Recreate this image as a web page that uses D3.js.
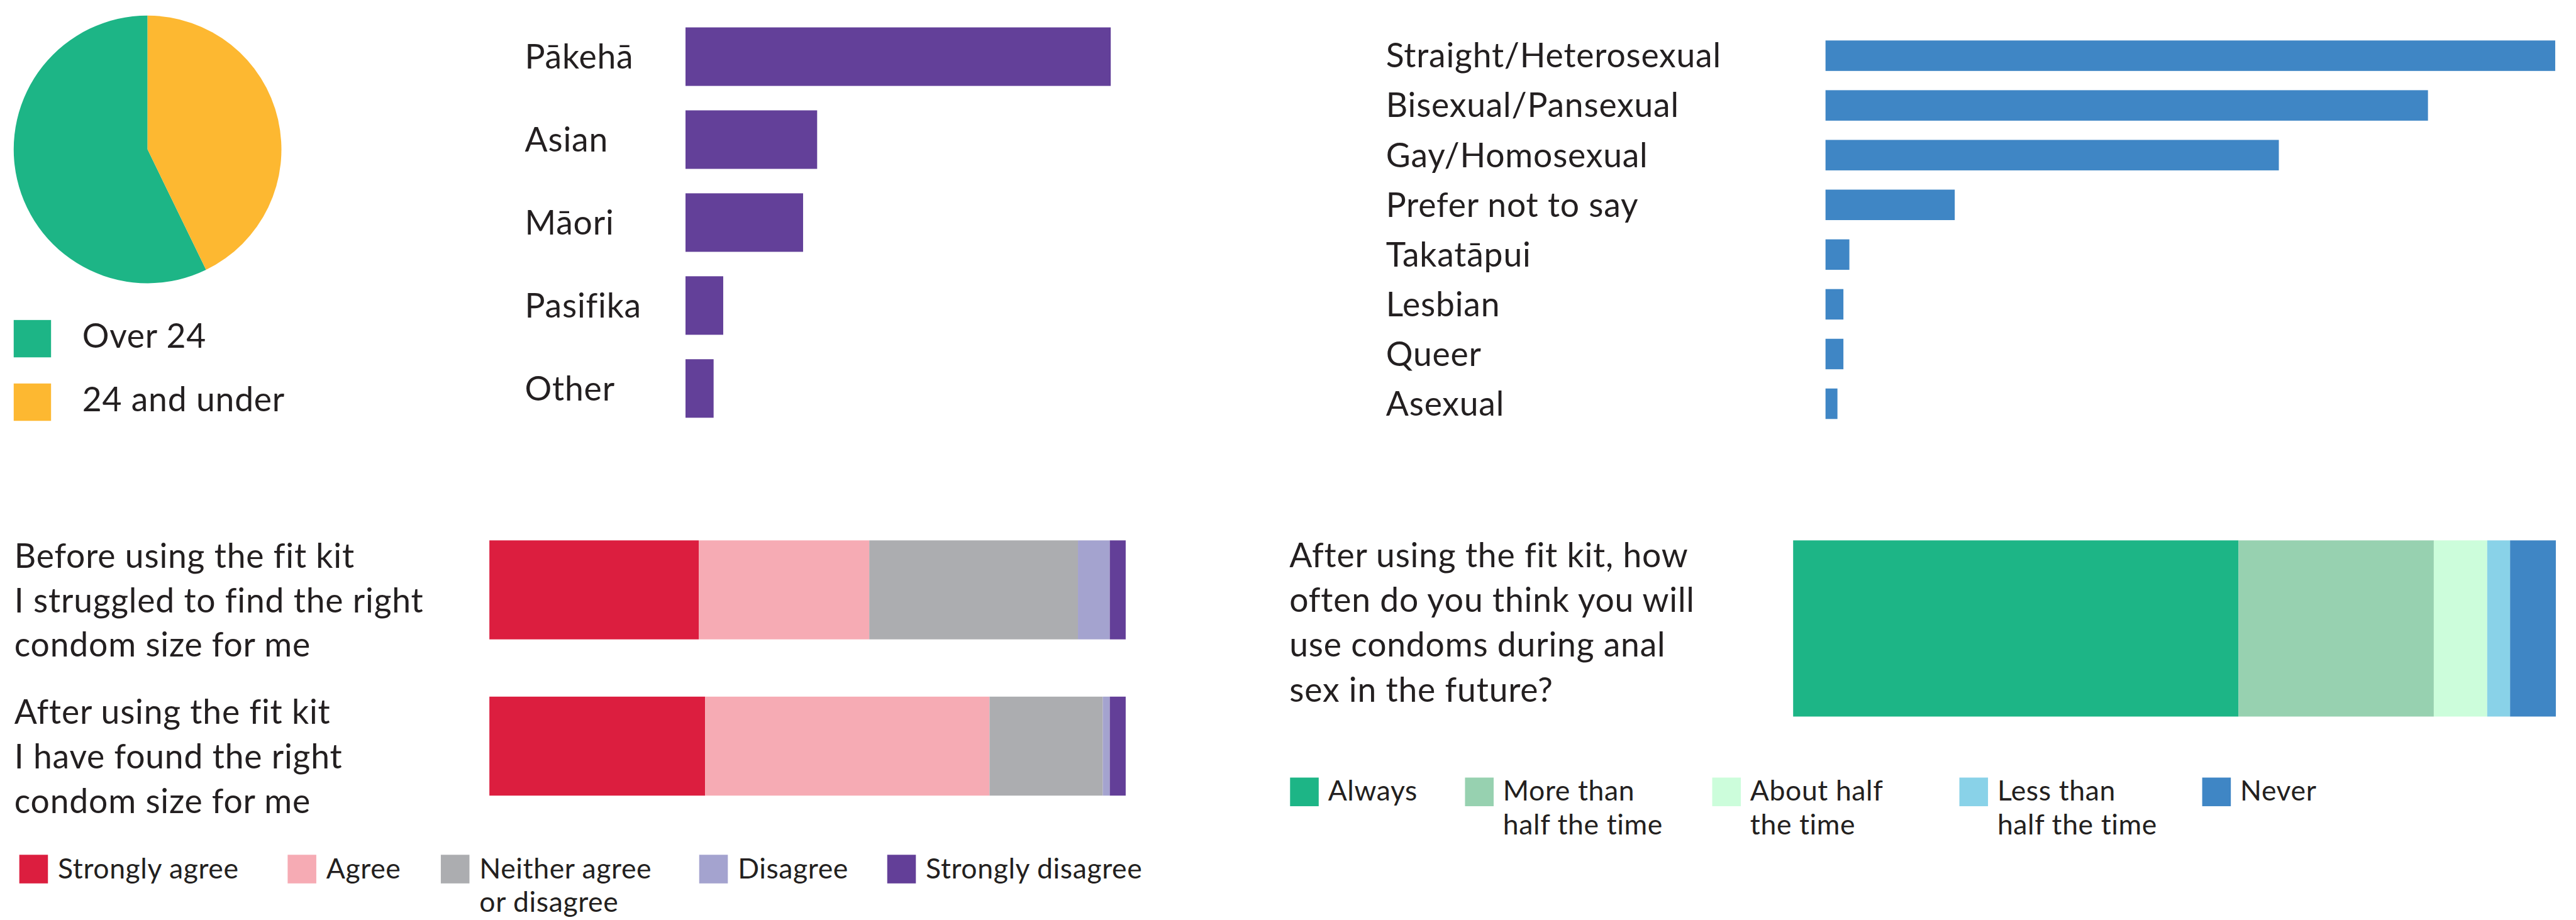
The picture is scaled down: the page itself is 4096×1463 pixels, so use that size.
<!DOCTYPE html>
<html>
<head>
<meta charset="utf-8">
<script src="https://cdn.jsdelivr.net/npm/d3@7"></script>
<style>
  body { margin: 0; background: #ffffff; }
  svg text { font-family: Lato, "Open Sans", sans-serif; fill: #231f20; }
</style>
</head>
<body>
<svg id="chart" width="4096" height="1463"></svg>
<script>
// ---------------- DATA ----------------
const ageGroups = ["Over 24", "24 and under"];
const ageValues = [57.2, 42.8];

const ethnicities = ["Pākehā", "Asian", "Māori", "Pasifika", "Other"];
const ethnicityValues = [57.5, 17.8, 15.9, 5.1, 3.8];

const orientations = ["Straight/Heterosexual", "Bisexual/Pansexual", "Gay/Homosexual",
  "Prefer not to say", "Takatāpui", "Lesbian", "Queer", "Asexual"];
const orientationValues = [36.7, 30.3, 22.8, 6.5, 1.2, 0.9, 0.9, 0.6];

const agreementLevels = ["Strongly agree", "Agree", "Neither agree\nor disagree", "Disagree", "Strongly disagree"];
const statements = [
  "Before using the fit kit\nI struggled to find the right\ncondom size for me",
  "After using the fit kit\nI have found the right\ncondom size for me"
];
const beforeValues = [32.9, 26.8, 32.8, 5.0, 2.5];
const afterValues = [33.9, 44.7, 17.8, 1.1, 2.5];

const frequencyLevels = ["Always", "More than\nhalf the time", "About half\nthe time", "Less than\nhalf the time", "Never"];
const futureUseQuestion = "After using the fit kit, how\noften do you think you will\nuse condoms during anal\nsex in the future?";
const futureUseValues = [58.4, 25.6, 7.0, 3.0, 6.0];

// ---------------- STYLE / LAYOUT ----------------
const ageColors = ["#1db586", "#fdb831"];
const ethnicityColor = "#634099";
const orientationColor = "#3f86c5";
const agreementColors = ["#dc1e3f", "#f6abb4", "#acadb0", "#a4a3cf", "#633f98"];
const frequencyColors = ["#1db586", "#97d1b0", "#ccfddb", "#89d2e8", "#3f86c5"];
const agreementLegendX = [31, 462, 708, 1123, 1425];
const frequencyLegendX = [2072, 2353, 2750, 3147, 3537];
const mainFont = 54, mainSpacing = 0.8;
const legendFont = 45, legendSpacing = 0.6;

const svg = d3.select("#chart");
const root = svg.append("g").attr("transform", "scale(0.99)");

// ---------------- PIE ----------------
(function () {
  const total = d3.sum(ageValues);
  const start = 2 * Math.PI * ageValues[1] / total;
  const pie = d3.pie().sort(null).startAngle(start).endAngle(start + 2 * Math.PI);
  const arc = d3.arc().innerRadius(0).outerRadius(215);
  const g = root.append("g").attr("transform", "translate(237,240)");
  g.selectAll("path").data(pie(ageValues)).join("path")
    .attr("d", arc).attr("fill", (d, i) => ageColors[i]);

  const leg = root.append("g");
  const ly = d3.scalePoint().domain(ageGroups).range([514, 616]);
  leg.selectAll("rect").data(ageGroups).join("rect")
    .attr("x", 22).attr("y", d => ly(d)).attr("width", 60).attr("height", 60)
    .attr("fill", (d, i) => ageColors[i]);
  leg.selectAll("text").data(ageGroups).join("text")
    .attr("x", 132).attr("y", d => ly(d) + 45)
    .attr("font-size", mainFont).attr("letter-spacing", mainSpacing).text(d => d);
})();

// ---------------- HORIZONTAL BARS ----------------
function hbars(cats, vals, color, x0, x1, y0, y1, pad, labelX) {
  const x = d3.scaleLinear().domain([0, d3.max(vals)]).range([x0, x1]);
  const y = d3.scaleBand().domain(cats).range([y0, y1]).paddingInner(pad).paddingOuter(0);
  const g = root.append("g");
  g.selectAll("rect").data(cats).join("rect")
    .attr("x", x(0)).attr("y", d => y(d))
    .attr("width", (d, i) => x(vals[i]) - x(0)).attr("height", y.bandwidth())
    .attr("fill", color);
  g.selectAll("text").data(cats).join("text")
    .attr("x", labelX).attr("y", d => y(d) + y.bandwidth() / 2 + 19)
    .attr("font-size", mainFont).attr("letter-spacing", mainSpacing).text(d => d);
}
hbars(ethnicities, ethnicityValues, ethnicityColor, 1101, 1784, 44, 671, 0.2946, 843);
hbars(orientations, orientationValues, orientationColor, 2932, 4104, 65, 673, 0.387, 2226);

// ---------------- STACKED BARS ----------------
function stackSegments(vals) {
  const cum = d3.cumsum(vals);
  return vals.map((v, i) => ({ i, x0: cum[i] - v, x1: cum[i] }));
}
function multiline(sel, str, x, y, lh, fs, ls) {
  const t = sel.append("text").attr("x", x).attr("y", y)
    .attr("font-size", fs).attr("letter-spacing", ls);
  str.split("\n").forEach((line, k) => {
    t.append("tspan").attr("x", x).attr("y", y + k * lh).text(line);
  });
  return t;
}

// Agreement chart
(function () {
  const x = d3.scaleLinear().domain([0, 100]).range([786, 1808]);
  const y = d3.scaleBand().domain(statements).range([868, 1278]).paddingInner(0.3665).paddingOuter(0);
  const series = [beforeValues, afterValues];
  const g = root.append("g");
  statements.forEach((s, si) => {
    g.append("g").selectAll("rect").data(stackSegments(series[si])).join("rect")
      .attr("x", d => x(d.x0)).attr("width", d => x(d.x1) - x(d.x0))
      .attr("y", y(s)).attr("height", y.bandwidth())
      .attr("fill", d => agreementColors[d.i]);
    multiline(g, s, 23, y(s) + 44, 71.5, mainFont, mainSpacing);
  });
  const leg = root.append("g");
  agreementLevels.forEach((lab, i) => {
    leg.append("rect").attr("x", agreementLegendX[i]).attr("y", 1373)
      .attr("width", 46).attr("height", 46).attr("fill", agreementColors[i]);
    multiline(leg, lab, agreementLegendX[i] + 62, 1411, 54, legendFont, legendSpacing);
  });
})();

// Future use chart
(function () {
  const x = d3.scaleLinear().domain([0, 100]).range([2880, 4105]);
  const g = root.append("g");
  g.selectAll("rect").data(stackSegments(futureUseValues)).join("rect")
    .attr("x", d => x(d.x0)).attr("width", d => x(d.x1) - x(d.x0))
    .attr("y", 868).attr("height", 283)
    .attr("fill", d => frequencyColors[d.i]);
  multiline(g, futureUseQuestion, 2071, 911, 72, mainFont, mainSpacing);
  const leg = root.append("g");
  frequencyLevels.forEach((lab, i) => {
    leg.append("rect").attr("x", frequencyLegendX[i]).attr("y", 1249)
      .attr("width", 46).attr("height", 46).attr("fill", frequencyColors[i]);
    multiline(leg, lab, frequencyLegendX[i] + 61, 1286, 54, legendFont, legendSpacing);
  });
})();
</script>
</body>
</html>
